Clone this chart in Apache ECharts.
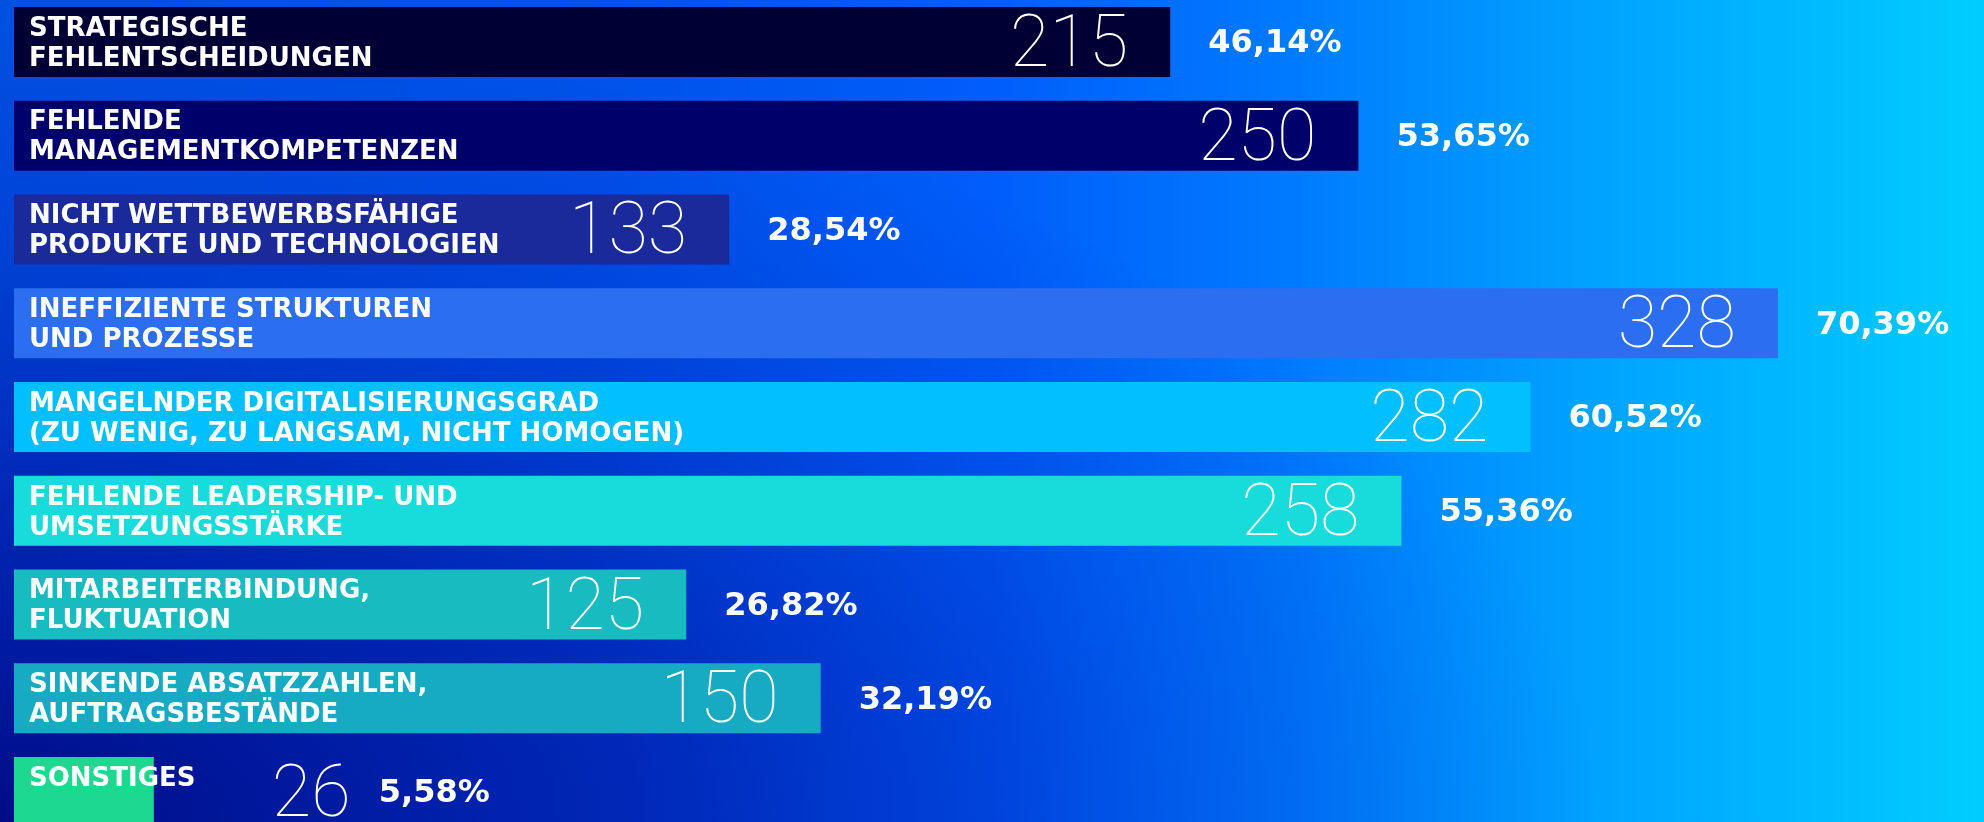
<!DOCTYPE html>
<html>
<head>
<meta charset="utf-8">
<script src="https://cdn.jsdelivr.net/npm/echarts@6/dist/echarts.min.js"></script>
<style>
    html, body { margin: 0; padding: 0; }
    #main { width: 1984px; height: 822px; }
</style>
</head>
<body>
<div id="main"></div>
<script>
// Ursachen (Mehrfachnennungen), Anzahl Nennungen und Anteil
const categories = [
    'STRATEGISCHE\nFEHLENTSCHEIDUNGEN',
    'FEHLENDE\nMANAGEMENTKOMPETENZEN',
    'NICHT WETTBEWERBSFÄHIGE\nPRODUKTE UND TECHNOLOGIEN',
    'INEFFIZIENTE STRUKTUREN\nUND PROZESSE',
    'MANGELNDER DIGITALISIERUNGSGRAD\n(ZU WENIG, ZU LANGSAM, NICHT HOMOGEN)',
    'FEHLENDE LEADERSHIP- UND\nUMSETZUNGSSTÄRKE',
    'MITARBEITERBINDUNG,\nFLUKTUATION',
    'SINKENDE ABSATZZAHLEN,\nAUFTRAGSBESTÄNDE',
    'SONSTIGES'
];
const counts = [215, 250, 133, 328, 282, 258, 125, 150, 26];
const shares = ['46,14%', '53,65%', '28,54%', '70,39%', '60,52%', '55,36%', '26,82%', '32,19%', '5,58%'];

const barColors = ['#000035', '#00006a', '#1b2a9a', '#2b6ef0', '#02bfff', '#17dcdb', '#18bbc0', '#16abc2', '#1dd88f'];

const chart = echarts.init(document.getElementById('main'));

// the small last bar gets its number and percent outside
const smallIdx = counts.length - 1;

const baseData = counts.map((v, i) => ({ value: v, itemStyle: { color: barColors[i] } }));
const numberData = counts.map((v, i) => {
    if (i === smallIdx) {
        return { value: v, label: { position: 'right', distance: 118 } };
    }
    return v;
});
const shareData = counts.map((v, i) => {
    if (i === smallIdx) {
        return { value: v, label: { distance: 225 } };
    }
    return v;
});

const option = {
    animation: false,
    graphic: [
        {
            type: 'rect',
            z: -10,
            silent: true,
            shape: { x: 0, y: 0, width: 1984, height: 822 },
            style: {
                fill: new echarts.graphic.LinearGradient(0, 0, 1, 0, [
                    { offset: 0, color: '#0050e2' },
                    { offset: 0.3, color: '#0052ea' },
                    { offset: 0.5, color: '#005efa' },
                    { offset: 0.65, color: '#007aff' },
                    { offset: 0.8, color: '#00a2ff' },
                    { offset: 1, color: '#00cdff' }
                ])
            }
        },
        {
            type: 'circle',
            z: -9,
            silent: true,
            x: 0,
            y: 822,
            scaleX: 2,
            scaleY: 1,
            shape: { cx: 0, cy: 0, r: 800 },
            style: {
                fill: new echarts.graphic.RadialGradient(0.5, 0.5, 0.5, [
                    { offset: 0, color: 'rgba(0,8,130,0.95)' },
                    { offset: 0.4, color: 'rgba(0,12,150,0.6)' },
                    { offset: 0.75, color: 'rgba(0,20,170,0.2)' },
                    { offset: 1, color: 'rgba(0,20,170,0)' }
                ])
            }
        }
    ],
    grid: {
        left: 14,
        right: 34,
        top: -5,
        height: 844,
        outerBoundsMode: 'none'
    },
    xAxis: {
        type: 'value',
        min: 0,
        max: 360,
        show: false
    },
    yAxis: {
        type: 'category',
        inverse: true,
        data: categories,
        show: false
    },
    series: [
        {
            name: 'bars',
            type: 'bar',
            barWidth: 70,
            data: baseData,
            label: {
                show: true,
                position: 'insideTopLeft',
                distance: 0,
                padding: [7, 0, 0, 15],
                formatter: (p) => p.name,
                color: '#ffffff',
                textBorderWidth: 0,
                fontFamily: 'DejaVu Sans',
                fontWeight: 'bold',
                fontSize: 26,
                lineHeight: 30,
                align: 'left',
                verticalAlign: 'top'
            }
        },
        {
            name: 'numbers',
            type: 'bar',
            barWidth: 70,
            barGap: '-100%',
            data: numberData,
            itemStyle: { color: 'rgba(0,0,0,0)' },
            label: {
                show: true,
                position: 'insideRight',
                distance: 42,
                offset: [0, 6],
                formatter: (p) => String(p.value),
                color: '#ffffff',
                textBorderWidth: 0,
                fontFamily: 'Roboto',
                fontWeight: 100,
                fontSize: 72
            }
        },
        {
            name: 'shares',
            type: 'bar',
            barWidth: 70,
            barGap: '-100%',
            data: shareData,
            itemStyle: { color: 'rgba(0,0,0,0)' },
            label: {
                show: true,
                position: 'right',
                distance: 38,
                offset: [0, 2],
                formatter: (p) => shares[p.dataIndex],
                color: '#ffffff',
                textBorderWidth: 0,
                fontFamily: 'DejaVu Sans',
                fontWeight: 'bold',
                fontSize: 32
            }
        }
    ]
};

chart.setOption(option);
</script>
</body>
</html>
